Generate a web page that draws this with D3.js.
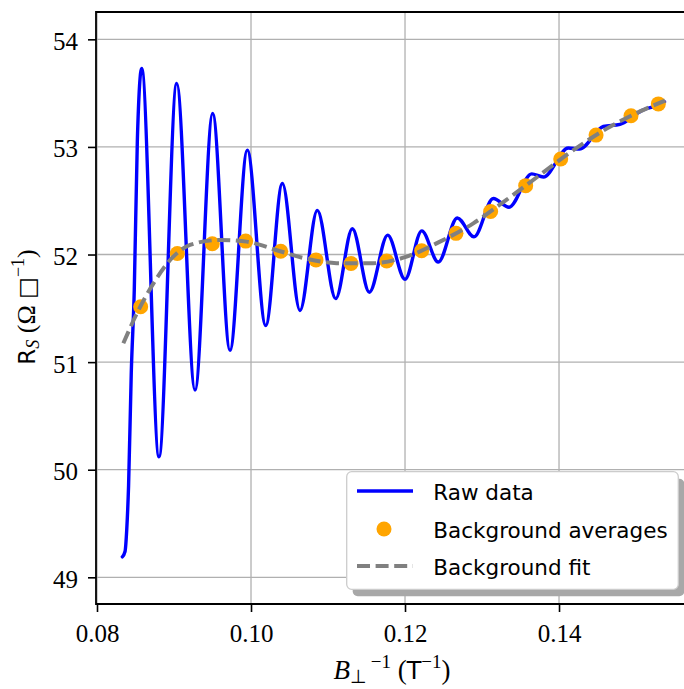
<!DOCTYPE html>
<html>
<head>
<meta charset="utf-8">
<script src="https://cdn.jsdelivr.net/npm/d3@7"></script>
<style>
  html, body { margin: 0; padding: 0; background: #fff; }
  svg { display: block; }
</style>
</head>
<body>
<div id="chart"></div>
<script>
// ---------- DATA ----------
const rawX = [0.08329, 0.08364, 0.08386, 0.08410, 0.08445, 0.08484, 0.08524,
  0.0858, 0.08805, 0.09035, 0.09273, 0.09502, 0.09727, 0.09952, 0.10191,
  0.10407, 0.10636, 0.10861, 0.11100, 0.11316, 0.11537, 0.11775, 0.12000,
  0.12217, 0.12432, 0.12679, 0.12896, 0.13147, 0.13351, 0.13645, 0.13797,
  0.14121, 0.14264, 0.14575, 0.14792, 0.15080, 0.15290, 0.15370];
const rawY = [49.19, 49.24, 49.44, 49.85, 50.90, 51.67, 53.06,
  53.73, 50.12, 53.59, 50.74, 53.31, 51.11, 52.97, 51.34,
  52.66, 51.48, 52.41, 51.59, 52.24, 51.65, 52.18, 51.77,
  52.22, 51.93, 52.34, 52.165, 52.52, 52.44, 52.75, 52.72,
  52.99, 52.98, 53.19, 53.21, 53.34, 53.39, 53.42];

const avgX = [0.08567, 0.09043, 0.09497, 0.09931, 0.10386, 0.10844, 0.11299, 0.11762,
  0.12216, 0.12662, 0.13112, 0.13567, 0.14022, 0.14481, 0.14935, 0.15290];
const avgY = [51.515, 52.01, 52.10, 52.125, 52.03, 51.95, 51.916, 51.94,
  52.035, 52.197, 52.40, 52.64, 52.888, 53.11, 53.29, 53.40];

const fitX = [0.08342, 0.08516, 0.08731, 0.08991, 0.09208, 0.09597, 0.09944, 0.10334,
  0.10723, 0.11112, 0.11545, 0.12022, 0.12454, 0.12887, 0.13321, 0.13753,
  0.14186, 0.14619, 0.15052, 0.15377];
const fitY = [51.175, 51.45, 51.73, 51.98, 52.09, 52.135, 52.12, 52.04,
  51.96, 51.92, 51.918, 51.98, 52.12, 52.29, 52.51, 52.74,
  52.97, 53.17, 53.33, 53.43];

const xTicks = [0.08, 0.10, 0.12, 0.14];
const xTickLabels = ["0.08", "0.10", "0.12", "0.14"];
const yTicks = [49, 50, 51, 52, 53, 54];
const yTickLabels = ["49", "50", "51", "52", "53", "54"];
const legendLabels = ["Raw data", "Background averages", "Background fit"];

// ---------- LAYOUT ----------
const W = 684, H = 689;
const plot = { left: 96, right: 688, top: 12, bottom: 604 };
const x = d3.scaleLinear().domain([0.07987, 0.15675]).range([plot.left, plot.right]);
const y = d3.scaleLinear().domain([48.752, 54.254]).range([plot.bottom, plot.top]);

const serif = "'Liberation Serif', 'Times New Roman', serif";
const sans = "'DejaVu Sans', sans-serif";

const svg = d3.select("#chart").append("svg")
  .attr("width", W).attr("height", H)
  .attr("viewBox", `0 0 ${W} ${H}`);

svg.append("defs").append("clipPath").attr("id", "clip")
  .append("rect").attr("x", plot.left).attr("y", plot.top)
  .attr("width", plot.right - plot.left).attr("height", plot.bottom - plot.top);

// grid
const grid = svg.append("g");
grid.selectAll(".gx").data(xTicks).join("line")
  .attr("x1", d => x(d)).attr("x2", d => x(d))
  .attr("y1", plot.top).attr("y2", plot.bottom)
  .attr("stroke", "#b0b0b0").attr("stroke-width", 1.3);
grid.selectAll(".gy").data(yTicks).join("line")
  .attr("x1", plot.left).attr("x2", plot.right)
  .attr("y1", d => y(d)).attr("y2", d => y(d))
  .attr("stroke", "#b0b0b0").attr("stroke-width", 1.3);

const g = svg.append("g").attr("clip-path", "url(#clip)");

// raw data
const rawPts = rawX.map((v, i) => [v, rawY[i]]);
const line = d3.line().x(d => x(d[0])).y(d => y(d[1])).curve(d3.curveMonotoneX);
g.append("path").datum(rawPts).attr("d", line)
  .attr("fill", "none").attr("stroke", "#0000ff").attr("stroke-width", 3.4)
  .attr("stroke-linejoin", "round").attr("stroke-linecap", "round");

// background averages
g.selectAll(".avg").data(avgX.map((v, i) => [v, avgY[i]])).join("circle")
  .attr("cx", d => x(d[0])).attr("cy", d => y(d[1])).attr("r", 7.5)
  .attr("fill", "#ffa500");

// background fit
const fitPts = fitX.map((v, i) => [v, fitY[i]]);
g.append("path").datum(fitPts).attr("d", line)
  .attr("fill", "none").attr("stroke", "#808080").attr("stroke-width", 4)
  .attr("stroke-dasharray", "13,5.6");

// axes
const xAxis = d3.axisBottom(x).tickValues(xTicks).tickFormat((d, i) => xTickLabels[i])
  .tickSize(8).tickSizeOuter(0);
const yAxis = d3.axisLeft(y).tickValues(yTicks).tickFormat((d, i) => yTickLabels[i])
  .tickSize(8).tickSizeOuter(0);

const gx = svg.append("g").attr("transform", `translate(0,${plot.bottom})`).call(xAxis);
gx.select(".domain").remove();
gx.selectAll(".tick line").attr("stroke", "#000").attr("stroke-width", 1.6);
gx.selectAll(".tick text").attr("font-family", serif).attr("font-size", 25)
  .attr("fill", "#000").attr("dy", null).attr("y", 38);

const gy = svg.append("g").attr("transform", `translate(${plot.left},0)`).call(yAxis);
gy.select(".domain").remove();
gy.selectAll(".tick line").attr("stroke", "#000").attr("stroke-width", 1.6);
gy.selectAll(".tick text").attr("font-family", serif).attr("font-size", 25)
  .attr("fill", "#000").attr("dy", null).attr("x", -18).attr("y", 10);

// spines (left, top, bottom; right is beyond the canvas)
svg.append("path")
  .attr("d", `M${plot.right},${plot.top}H${plot.left}V${plot.bottom}H${plot.right}`)
  .attr("fill", "none").attr("stroke", "#000").attr("stroke-width", 1.8);

// axis labels
const xl = svg.append("text").attr("x", 392).attr("y", 679)
  .attr("text-anchor", "middle").attr("font-size", 27).attr("fill", "#000");
xl.append("tspan").attr("font-family", serif).attr("font-style", "italic").text("B");
xl.append("tspan").attr("font-family", serif).attr("font-size", 19).attr("dy", 4).text("⊥");
xl.append("tspan").attr("font-family", serif).attr("font-size", 19).attr("dy", -15).text("\u2009−1");
xl.append("tspan").attr("font-family", serif).attr("dy", 11).text(" (");
xl.append("tspan").attr("font-family", sans).attr("font-size", 24).text("T");
xl.append("tspan").attr("font-family", serif).attr("font-size", 19).attr("dy", -11).text("−1");
xl.append("tspan").attr("font-family", serif).attr("dy", 11).text(")");

const yl = svg.append("text").attr("transform", "translate(35,307) rotate(-90)")
  .attr("text-anchor", "middle").attr("font-size", 26).attr("fill", "#000");
yl.append("tspan").attr("font-family", sans).attr("font-size", 23).text("R");
yl.append("tspan").attr("font-family", serif).attr("font-style", "italic").attr("font-size", 18).attr("dy", 4).text("S");
yl.append("tspan").attr("font-family", serif).attr("dy", -4).text(" (Ω ");
yl.append("tspan").attr("font-family", sans).attr("font-size", 23).text("□");
yl.append("tspan").attr("font-family", serif).attr("font-size", 18).attr("dy", -11).text("−1");
yl.append("tspan").attr("font-family", serif).attr("dy", 11).text(")");

// legend
const lg = svg.append("g");
const box = { x: 346.7, y: 471.7, w: 331.6, h: 117.6 };
lg.append("rect").attr("x", box.x + 6).attr("y", box.y + 7)
  .attr("width", box.w).attr("height", box.h).attr("rx", 5)
  .attr("fill", "#a8a8a8");
lg.append("rect").attr("x", box.x).attr("y", box.y)
  .attr("width", box.w).attr("height", box.h).attr("rx", 5)
  .attr("fill", "#fff").attr("stroke", "#cccccc").attr("stroke-width", 1.3);

const rowsY = [491, 529, 566];
lg.append("line").attr("x1", 357).attr("x2", 413).attr("y1", rowsY[0]).attr("y2", rowsY[0])
  .attr("stroke", "#0000ff").attr("stroke-width", 3.4);
lg.append("circle").attr("cx", 384).attr("cy", rowsY[1]).attr("r", 7.5).attr("fill", "#ffa500");
lg.append("line").attr("x1", 357).attr("x2", 413).attr("y1", rowsY[2]).attr("y2", rowsY[2])
  .attr("stroke", "#808080").attr("stroke-width", 4).attr("stroke-dasharray", "13,5.6");

lg.selectAll(".lt").data(legendLabels).join("text")
  .attr("x", 433.3).attr("y", (d, i) => rowsY[i] + 9)
  .attr("font-family", sans).attr("font-size", 21.5).attr("fill", "#000")
  .text(d => d);
</script>
</body>
</html>
